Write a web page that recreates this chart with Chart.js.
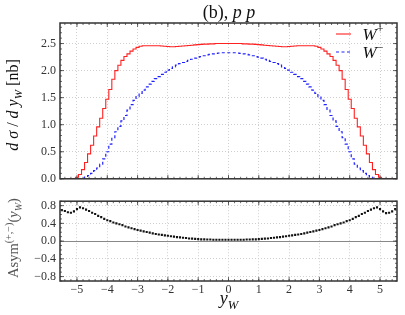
<!DOCTYPE html>
<html>
<head>
<meta charset="utf-8">
<script src="https://cdn.jsdelivr.net/npm/chart.js@4/dist/chart.umd.min.js"></script>
<style>
  html, body { margin: 0; padding: 0; background: #fff; }
  #wrap { position: relative; width: 405px; height: 315px; overflow: hidden; font-family: "Liberation Serif", serif; color: #111; }
  canvas { position: absolute; left: 0; }
  .lbl { position: absolute; white-space: nowrap; transform: translate(-50%, -50%); line-height: 1; }
  .rot { transform: translate(-50%, -50%) rotate(-90deg); }
  sub, sup { font-size: 70%; line-height: 0; }
</style>
</head>
<body>
<div id="wrap">
  <canvas id="top" width="405" height="190" style="top:0"></canvas>
  <canvas id="bot" width="405" height="125" style="top:190px"></canvas>

  <div class="lbl" style="left:229px; top:12px; font-size:18px;">(b), <i>p p</i></div>
  <div class="lbl rot" style="left:13px; top:105px; font-size:16px;"><i>d σ</i> / <i>d y<sub>W</sub></i> [nb]</div>
  <div class="lbl rot" style="left:13px; top:238px; font-size:14.5px; color:#555;">Asym<sup>(+,−)</sup>(<i>y<sub>W</sub></i>)</div>
  <div class="lbl" style="left:229px; top:298px; font-size:18px;"><i>y<sub>W</sub></i></div>

  <svg style="position:absolute; left:334px; top:28px;" width="20" height="30">
    <line x1="2" y1="6" x2="17" y2="6" stroke="#ff2020" stroke-width="1.1"/>
    <line x1="2" y1="24" x2="17" y2="24" stroke="#2222ff" stroke-width="1.2" stroke-dasharray="3,2.5"/>
  </svg>
  <div class="lbl" style="left:373px; top:34px; font-size:17px;"><i>W</i><sup>+</sup></div>
  <div class="lbl" style="left:373px; top:52px; font-size:17px;"><i>W</i><sup>−</sup></div>
</div>
<script>
// bin centres in y_W
const yW = [
  -5.5, -5.4, -5.3, -5.2, -5.1, -5.0, -4.9, -4.8, -4.7, -4.6,
  -4.5, -4.4, -4.3, -4.2, -4.1, -4.0, -3.9, -3.8, -3.7, -3.6,
  -3.5, -3.4, -3.3, -3.2, -3.1, -3.0, -2.9, -2.8, -2.7, -2.6,
  -2.5, -2.4, -2.3, -2.2, -2.1, -2.0, -1.9, -1.8, -1.7, -1.6,
  -1.5, -1.4, -1.3, -1.2, -1.1, -1.0, -0.9, -0.8, -0.7, -0.6,
  -0.5, -0.4, -0.3, -0.2, -0.1, 0.0,
  0.1, 0.2, 0.3, 0.4, 0.5,
  0.6, 0.7, 0.8, 0.9, 1.0, 1.1, 1.2, 1.3, 1.4, 1.5,
  1.6, 1.7, 1.8, 1.9, 2.0, 2.1, 2.2, 2.3, 2.4, 2.5,
  2.6, 2.7, 2.8, 2.9, 3.0, 3.1, 3.2, 3.3, 3.4, 3.5,
  3.6, 3.7, 3.8, 3.9, 4.0, 4.1, 4.2, 4.3, 4.4, 4.5,
  4.6, 4.7, 4.8, 4.9, 5.0, 5.1, 5.2, 5.3, 5.4, 5.5
];

// d sigma / d y_W [nb], W+
const wPlus = [
  0, 0, 0, 0, 0.005, 0.03, 0.08, 0.17, 0.30, 0.46,
  0.62, 0.79, 0.96, 1.12, 1.30, 1.47, 1.65, 1.84, 2.00, 2.10,
  2.19, 2.26, 2.31, 2.36, 2.40, 2.43, 2.45, 2.46, 2.46, 2.46,
  2.46, 2.46, 2.46, 2.455, 2.45, 2.445, 2.44, 2.44, 2.445, 2.45,
  2.455, 2.46, 2.465, 2.47, 2.475, 2.48, 2.485, 2.49, 2.49, 2.495,
  2.495, 2.50, 2.50, 2.50, 2.50, 2.50,
  2.50, 2.50, 2.50, 2.50, 2.495,
  2.495, 2.49, 2.49, 2.485, 2.48, 2.475, 2.47, 2.465, 2.46, 2.455,
  2.45, 2.445, 2.44, 2.44, 2.445, 2.45, 2.455, 2.46, 2.46, 2.46,
  2.46, 2.46, 2.46, 2.45, 2.43, 2.40, 2.36, 2.31, 2.26, 2.19,
  2.10, 2.00, 1.84, 1.65, 1.47, 1.30, 1.12, 0.96, 0.79, 0.62,
  0.46, 0.30, 0.17, 0.08, 0.03, 0.005, 0, 0, 0, 0
];

// W-
const wMinus = [
  0, 0, 0, 0, 0, 0, 0, 0.01, 0.03, 0.06,
  0.10, 0.15, 0.20, 0.27, 0.37, 0.50, 0.64, 0.76, 0.87, 0.97,
  1.07, 1.17, 1.27, 1.37, 1.45, 1.52, 1.58, 1.64, 1.70, 1.75,
  1.80, 1.85, 1.89, 1.93, 1.97, 2.01, 2.04, 2.07, 2.10, 2.13,
  2.15, 2.17, 2.19, 2.21, 2.23, 2.25, 2.26, 2.275, 2.29, 2.30,
  2.31, 2.32, 2.325, 2.33, 2.33, 2.33,
  2.33, 2.33, 2.325, 2.32, 2.31,
  2.30, 2.29, 2.275, 2.26, 2.25, 2.23, 2.21, 2.19, 2.17, 2.15,
  2.13, 2.10, 2.07, 2.04, 2.01, 1.97, 1.93, 1.89, 1.85, 1.80,
  1.75, 1.70, 1.64, 1.58, 1.52, 1.45, 1.37, 1.27, 1.17, 1.07,
  0.97, 0.87, 0.76, 0.64, 0.50, 0.37, 0.27, 0.20, 0.15, 0.10,
  0.06, 0.03, 0.01, 0, 0, 0, 0, 0, 0, 0
];

// Asym(+,-)(y_W)
const asym = [
  0.70, 0.68, 0.65, 0.64, 0.67, 0.72, 0.76, 0.74, 0.71, 0.68,
  0.64, 0.61, 0.57, 0.54, 0.50, 0.47, 0.45, 0.42, 0.40, 0.38,
  0.36, 0.33, 0.31, 0.29, 0.27, 0.25, 0.235, 0.22, 0.205, 0.19,
  0.175, 0.16, 0.15, 0.14, 0.13, 0.12, 0.11, 0.10, 0.09, 0.085,
  0.075, 0.07, 0.06, 0.055, 0.05, 0.045, 0.04, 0.04, 0.035, 0.035,
  0.03, 0.03, 0.03, 0.03, 0.03, 0.03,
  0.03, 0.03, 0.03, 0.03, 0.03,
  0.035, 0.035, 0.04, 0.04, 0.045, 0.05, 0.055, 0.06, 0.07, 0.075,
  0.085, 0.09, 0.10, 0.11, 0.12, 0.13, 0.14, 0.15, 0.16, 0.175,
  0.19, 0.205, 0.22, 0.235, 0.25, 0.27, 0.29, 0.31, 0.33, 0.36,
  0.38, 0.40, 0.42, 0.45, 0.47, 0.50, 0.54, 0.57, 0.61, 0.64,
  0.68, 0.71, 0.74, 0.76, 0.72, 0.67, 0.63, 0.64, 0.67, 0.72
];

// tick labels
const xTicks = [-5, -4, -3, -2, -1, 0, 1, 2, 3, 4, 5];
const yTicksTop = [0, 0.5, 1.0, 1.5, 2.0, 2.5];
const yTicksBot = [-0.8, -0.4, 0, 0.4, 0.8];

const tickFont = { family: "Liberation Serif", size: 12 };

// frame with inward major/minor ticks, like matplotlib
const frameTicks = {
  id: 'frameTicks',
  afterDraw(chart, args, opts) {
    const { ctx, chartArea: a, scales: { x, y } } = chart;
    ctx.save();
    if (opts.zeroLine) {
      ctx.strokeStyle = '#888';
      ctx.lineWidth = 1;
      ctx.beginPath();
      const py = Math.round(y.getPixelForValue(0)) + 0.5;
      ctx.moveTo(a.left, py); ctx.lineTo(a.right, py);
      ctx.stroke();
    }
    ctx.strokeStyle = '#444';
    ctx.lineWidth = 0.8;
    ctx.beginPath();
    const xMark = (v, len) => {
      const px = x.getPixelForValue(v);
      ctx.moveTo(px, a.top); ctx.lineTo(px, a.top + len);
      ctx.moveTo(px, a.bottom); ctx.lineTo(px, a.bottom - len);
    };
    const yMark = (v, len) => {
      const py = y.getPixelForValue(v);
      ctx.moveTo(a.left, py); ctx.lineTo(a.left + len, py);
      ctx.moveTo(a.right, py); ctx.lineTo(a.right - len, py);
    };
    for (let i = -27; i <= 27; i++) xMark(i * 0.2, 2);
    for (let i = Math.ceil(y.min * 10); i <= Math.floor(y.max * 10); i++) yMark(i / 10, 2);
    xTicks.forEach(v => xMark(v, 4));
    opts.yTicks.forEach(v => yMark(v, 4));
    ctx.stroke();
    ctx.strokeStyle = '#333';
    ctx.lineWidth = 1.5;
    ctx.strokeRect(a.left, a.top, a.right - a.left, a.bottom - a.top);
    ctx.restore();
  }
};

function xAxis(showLabels, h) {
  return {
    type: 'linear', min: -5.56, max: 5.56,
    afterBuildTicks: s => { s.ticks = xTicks.map(v => ({ value: v })); },
    afterFit: s => { s.height = h; },
    grid: { color: '#c4c4c4', lineWidth: 0.8, drawTicks: false },
    border: { display: false, dash: [1, 2] },
    ticks: { display: showLabels, padding: 2, color: '#333', font: tickFont, maxRotation: 0,
             callback: v => (v < 0 ? '\u2212' : '') + Math.abs(v) }
  };
}

function yAxis(min, max, ticks) {
  return {
    min: min, max: max,
    afterBuildTicks: s => { s.ticks = ticks.map(v => ({ value: v })); },
    afterFit: s => { s.width = 60; },
    grid: { color: '#c4c4c4', lineWidth: 0.8, drawTicks: false },
    border: { display: false, dash: [1, 2] },
    ticks: { padding: 4, color: '#333', font: tickFont,
             callback: v => (v < 0 ? '\u2212' : '') + Math.abs(v).toFixed(1) }
  };
}

new Chart(document.getElementById('top'), {
  type: 'line',
  data: {
    datasets: [
      { data: yW.map((v, i) => ({ x: v, y: wPlus[i] })), stepped: 'middle',
        borderColor: '#ff2020', borderWidth: 1.1, pointRadius: 0, fill: false },
      { data: yW.map((v, i) => ({ x: v, y: wMinus[i] })), stepped: 'middle',
        borderColor: '#2222ff', borderWidth: 1.2, borderDash: [3, 2.5], pointRadius: 0, fill: false }
    ]
  },
  options: {
    responsive: false, animation: false, devicePixelRatio: 1,
    layout: { padding: { top: 23, right: 8, left: 0, bottom: 3 } },
    plugins: { legend: { display: false }, tooltip: { enabled: false },
               frameTicks: { yTicks: yTicksTop, zeroLine: false } },
    scales: { x: xAxis(false, 0), y: yAxis(0, 2.88, yTicksTop) }
  },
  plugins: [frameTicks]
});

new Chart(document.getElementById('bot'), {
  type: 'scatter',
  data: {
    datasets: [
      { data: yW.map((v, i) => ({ x: v, y: asym[i] })), showLine: false,
        pointRadius: 1.5, pointBorderWidth: 0, backgroundColor: '#111', pointStyle: 'rect' }
    ]
  },
  options: {
    responsive: false, animation: false, devicePixelRatio: 1,
    layout: { padding: { top: 5, right: 8, left: 0, bottom: 0 } },
    plugins: { legend: { display: false }, tooltip: { enabled: false },
               frameTicks: { yTicks: yTicksBot, zeroLine: true } },
    scales: { x: xAxis(true, 34), y: yAxis(-0.9, 0.9, yTicksBot) }
  },
  plugins: [frameTicks]
});
</script>
</body>
</html>
